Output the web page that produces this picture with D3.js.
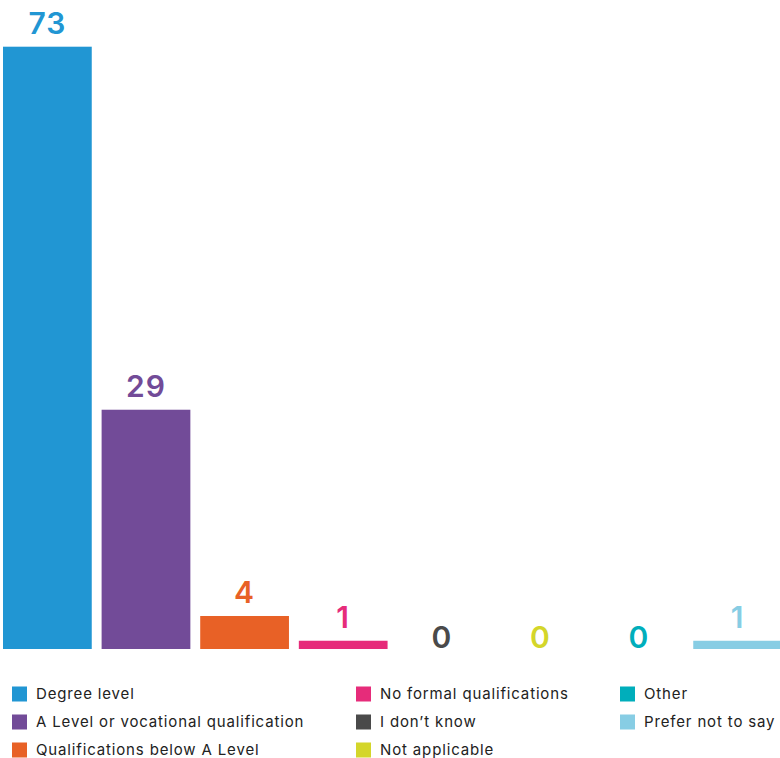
<!DOCTYPE html>
<html><head><meta charset="utf-8">
<script src="https://cdn.jsdelivr.net/npm/d3@7"></script>
<style>body{margin:0;background:#fff}svg{display:block}</style>
</head><body>
<svg id="c" width="780" height="758"></svg>
<script>
const categories = ["Degree level","A Level or vocational qualification","Qualifications below A Level","No formal qualifications","I don\u2019t know","Not applicable","Other","Prefer not to say"];
const values = [73,29,4,1,0,0,0,1];
const colors = ["#2196d3","#724b98","#e86126","#e62c7a","#4a4a4a","#d4d62a","#00aebb","#87cde4"];

const svg = d3.select("#c");
const font = "Inter, 'Open Sans', sans-serif";
const x = d3.scaleBand().domain(categories).range([3, 782]).paddingInner(0.1).paddingOuter(0);
const y = d3.scaleLinear().domain([0, 73]).range([649, 46.7]);

svg.append("g").selectAll("rect").data(categories).join("rect")
  .attr("x", d => x(d)).attr("width", x.bandwidth())
  .attr("y", (d,i) => y(values[i])).attr("height", (d,i) => y(0) - y(values[i]))
  .attr("fill", (d,i) => colors[i]);

svg.append("g").selectAll("text").data(categories).join("text")
  .attr("x", d => x(d) + x.bandwidth()/2)
  .attr("y", (d,i) => values[i] > 0 ? y(values[i]) - 13 : y(0) - 1)
  .attr("text-anchor", "middle")
  .attr("font-family", font).attr("font-size", 30).attr("font-weight", 600)
  .attr("letter-spacing", 1)
  .attr("fill", (d,i) => colors[i])
  .text((d,i) => values[i]);

const colX = [12, 356, 620];
const legend = svg.append("g").selectAll("g").data(categories).join("g")
  .attr("transform", (d,i) => `translate(${colX[Math.floor(i/3)]},${686.5 + (i%3)*28})`);
legend.append("rect").attr("width", 15).attr("height", 15).attr("fill", (d,i) => colors[i]);
legend.append("text").attr("x", 24).attr("y", 12.5)
  .attr("font-family", font).attr("font-size", 15).attr("fill", "#222")
  .attr("letter-spacing", 0.85)
  .text(d => d);
</script>
</body></html>
